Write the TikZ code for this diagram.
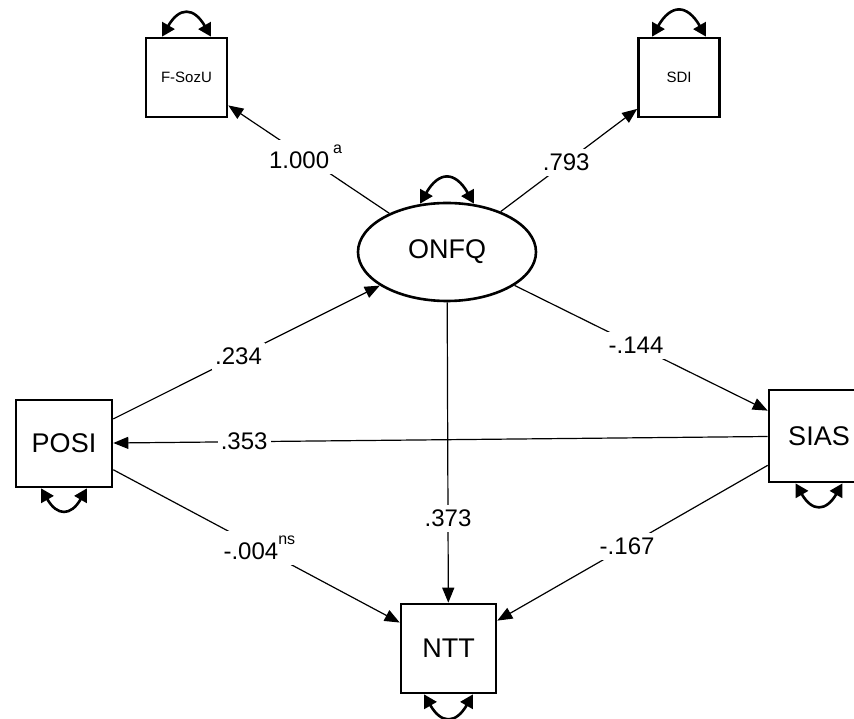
\documentclass[tikz,border=0pt]{standalone}
\usepackage{fontspec}
\setmainfont{Liberation Sans}
\usetikzlibrary{arrows.meta,shapes.geometric}

\newcommand{\sig}[1]{\raisebox{0.62em}{\fontsize{16}{16}\selectfont #1}}

\tikzstyle{observed}=[rectangle,draw,line width=2.6pt,inner sep=0pt,font=\fontsize{27}{27}\selectfont]
\tikzstyle{small observed}=[observed,minimum width=81pt,minimum height=79pt,font=\fontsize{15}{15}\selectfont]
\tikzstyle{latent}=[ellipse,draw,line width=2.6pt,minimum width=178pt,minimum height=98pt,inner sep=0pt,font=\fontsize{27}{27}\selectfont]
\tikzstyle{edge}=[draw,line width=1.2pt,-{Triangle[length=15pt,width=12pt]}]
\tikzstyle{weight}=[fill=white,inner xsep=3pt,inner ysep=5pt,font=\fontsize{24}{24}\selectfont]
\tikzstyle{variance}=[draw,line width=2.6pt,{Triangle[length=13pt,width=14pt]}-{Triangle[length=13pt,width=14pt]}]

\begin{document}
\begin{tikzpicture}[x=1pt,y=1pt]
     \useasboundingbox (0,0) rectangle (854,718);
     % indicators of the latent factor
     \foreach \pos/\name/\txt in {{(186.5,640.5)/FSozU/F-SozU}, {(679,640.5)/SDI/SDI}}
     \node[small observed] (\name) at \pos {\txt};

     \node[latent] (ONFQ) at (447,466) {ONFQ};

     % the manifest variables
     \foreach \pos/\name/\boxw/\boxh in {{(64,274.5)/POSI/96/87},
       {(819,282)/SIAS/100/92}, {(448.5,69.5)/NTT/95/89}}
     \node[observed,minimum width=\boxw pt,minimum height=\boxh pt] (\name) at \pos {\name};

     % paths with their estimates
     \foreach \source/\dest/\weight/\where in {ONFQ/FSozU/{1.000\hspace{4pt}\sig{a}}/0.52,
       ONFQ/SDI/.793/0.48, POSI/ONFQ/.234/0.47, ONFQ/SIAS/-.144/0.48,
       SIAS/POSI/.353/0.80, ONFQ/NTT/.373/0.72,
       POSI/NTT/{-.004\sig{ns}}/0.51, SIAS/NTT/-.167/0.52}
     \path[edge] (\source) -- node[weight,pos=\where] {\weight} (\dest);

     % variances
     \foreach \name/\dx in {FSozU/24.5, SDI/27}
     \path[variance] ([xshift=-\dx pt]\name.north) to[out=60,in=120,looseness=1.8] ([xshift=\dx pt]\name.north);
     \path[variance] ([xshift=-27pt,yshift=-2pt]ONFQ.north) to[out=60,in=120,looseness=1.8] ([xshift=27pt,yshift=-2pt]ONFQ.north);
     \foreach \name/\dx in {POSI/23, SIAS/23.5, NTT/24.5}
     \path[variance] ([xshift=-\dx pt]\name.south) to[out=-60,in=-120,looseness=1.8] ([xshift=\dx pt]\name.south);
\end{tikzpicture}
\end{document}
